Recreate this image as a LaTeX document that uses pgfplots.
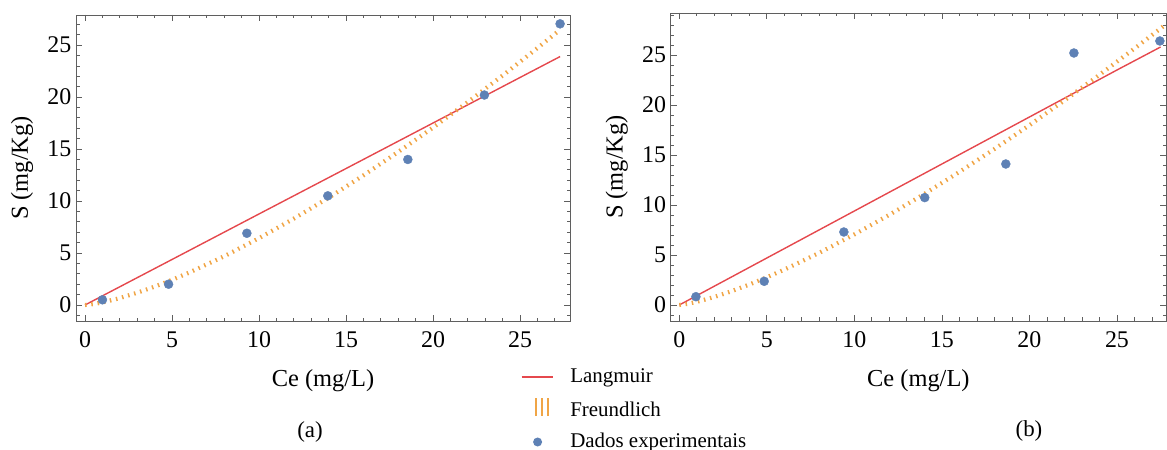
\documentclass[border=0pt]{standalone}
\usepackage{fontspec}
\setmainfont{Liberation Serif}
\usepackage{pgfplots}
\pgfplotsset{compat=1.18}
\definecolor{ptblue}{RGB}{94,129,181}
\definecolor{lred}{RGB}{229,72,77}
\definecolor{forange}{RGB}{240,165,70}
\definecolor{framegray}{RGB}{95,95,95}

\pgfplotsset{
  myaxis/.style={
    scale only axis,
    axis line style={framegray, line width=0.9bp},
    tick style={framegray, line width=0.8bp},
    tick align=inside,
    major tick length=6bp, minor tick length=3.5bp,
    xtick={0,5,...,25}, ytick={0,5,...,25},
    minor xtick={0,1,...,27}, minor ytick={-1,0,...,29},
    /pgf/number format/assume math mode=true,
    ticklabel style={font=\fontsize{24}{28}\selectfont},
    xticklabel style={inner sep=0pt, yshift=-10.5bp},
    yticklabel style={inner sep=0pt, xshift=-4.5bp},
    label style={font=\fontsize{24.5}{28}\selectfont},
    xlabel={Ce (mg/L)}, ylabel={S (mg/Kg)},
    xlabel style={at={(axis description cs:0.5,-0.195)}, anchor=center},
    ylabel style={at={(axis description cs:-0.109,0.5)}, anchor=center},
  },
  langstyle/.style={lred, line width=1.4bp},
  freustyle/.style={forange, line width=4.2bp, dash pattern=on 1.5bp off 4.8bp},
  ptstyle/.style={only marks, mark=*, mark size=4.5bp, color=ptblue, mark options={draw=ptblue, fill=ptblue}},
}

\begin{document}
\begin{tikzpicture}
% ---------------- panel (a) ----------------
\begin{axis}[myaxis,
  at={(76bp,129bp)}, anchor=south west,
  width=494bp, height=306bp,
  xmin=-0.52, xmax=27.87, ymin=-1.54, ymax=27.9,
  legend style={at={(axis description cs:0.9002,-0.150)}, anchor=north west,
    draw=none, fill=none, inner sep=0pt, row sep=10.5bp,
    font=\fontsize{21}{25}\selectfont,
    nodes={inner xsep=0pt, inner ysep=0pt, text height=15bp, text depth=5bp},
    /tikz/every odd column/.append style={column sep=17bp}},
  legend cell align=left,
]
\addplot[langstyle, legend image code/.code={
    \path[draw=none, fill=none] (0bp,-1bp) rectangle (31bp,1bp);
    \draw[lred, solid, line width=1.4bp] (0bp,0bp) -- (31bp,0bp);}]
  coordinates {(0,0) (1,0.88) (5,4.38) (10,8.76) (15,13.13) (20,17.51) (25,21.89) (27.3,23.9)};
\addlegendentry{Langmuir}
\addplot[freustyle, legend image code/.code={
    \path[draw=none, fill=none] (0bp,-1bp) rectangle (31bp,1bp);
    \draw[draw=forange, solid, line width=1.8bp] (14bp,-4.5bp) -- (14bp,13bp);
    \draw[draw=forange, solid, line width=1.8bp] (20bp,-4.5bp) -- (20bp,13bp);
    \draw[draw=forange, solid, line width=1.8bp] (26bp,-4.5bp) -- (26bp,13bp);}]
  coordinates {(0,0) (0.5,0.094) (1,0.25) (2,0.664) (3,1.177) (4,1.765) (5,2.42) (6,3.13)
    (8,4.69) (10,6.43) (12,8.31) (14,10.32) (16,12.47) (18,14.73) (20,17.07)
    (22,19.53) (24,22.08) (26,24.72) (27.3,26.48)};
\addlegendentry{Freundlich}
\addplot[ptstyle, legend image code/.code={
    \path[draw=none, fill=none] (0bp,-1bp) rectangle (31bp,1bp);
    \fill[ptblue, draw=none] (16bp,0bp) circle (4.5bp);}]
  coordinates {(1.0,0.5) (4.8,2.0) (9.3,6.9) (13.95,10.5) (18.55,14.0) (22.95,20.2) (27.3,27.05)};
\addlegendentry{Dados experimentais}
\end{axis}
% ---------------- panel (b) ----------------
\begin{axis}[myaxis,
  at={(670.7bp,129bp)}, anchor=south west,
  width=495.3bp, height=308bp,
  xmin=-0.49, xmax=27.8, ymin=-1.6, ymax=29.2,
]
\addplot[langstyle] coordinates {(0,0) (5,4.7) (10,9.4) (15,14.1) (20,18.8) (25,23.5) (27.49,25.8)};
\addplot[freustyle] coordinates {(0,0) (0.5,0.123) (1,0.314) (2,0.802) (3,1.387) (4,2.05) (5,2.77) (6,3.54)
    (8,5.22) (10,7.06) (12,9.02) (14,11.11) (16,13.31) (18,15.60) (20,17.98)
    (22,20.46) (24,23.02) (26,25.65) (27.8,28.07)};
\addplot[ptstyle] coordinates {(0.95,0.83) (4.85,2.37) (9.4,7.3) (14.02,10.74) (18.65,14.1) (22.54,25.2) (27.45,26.4)};
\end{axis}
\node[font=\fontsize{23}{27}\selectfont] at (310bp,18bp) {(a)};
\node[font=\fontsize{23}{27}\selectfont] at (1029bp,19bp) {(b)};
\pgfresetboundingbox
\path[use as bounding box] (0bp,0bp) rectangle (1167bp,450bp);
\end{tikzpicture}
\end{document}
